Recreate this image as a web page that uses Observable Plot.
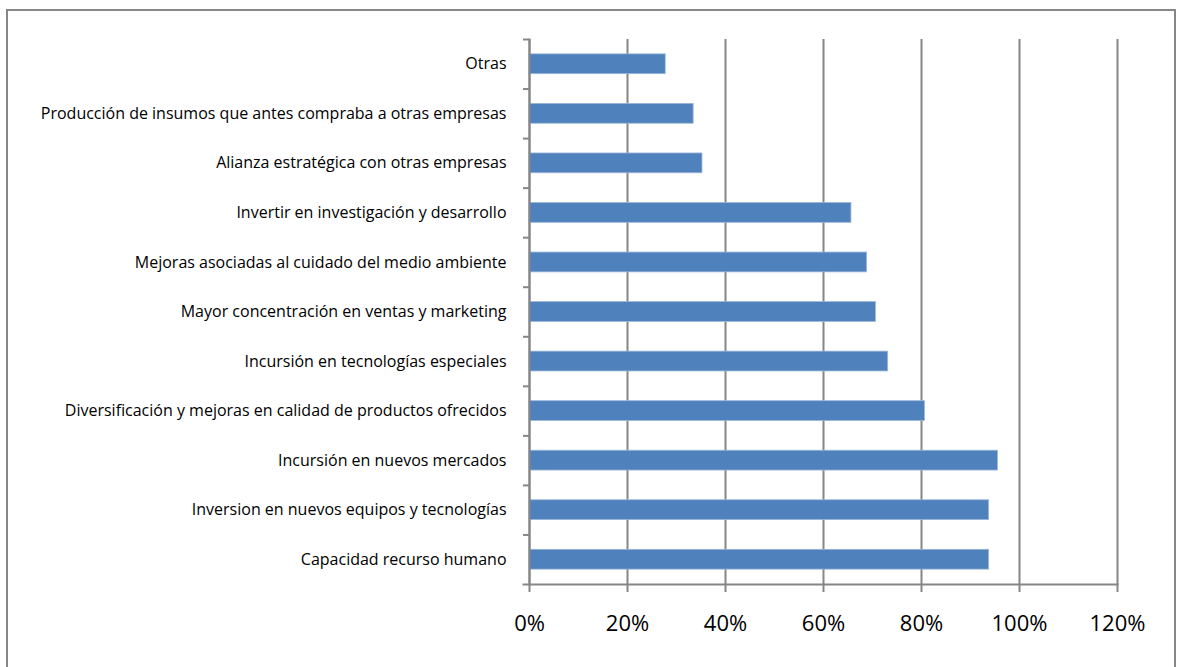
<!DOCTYPE html>
<html>
<head>
<meta charset="utf-8">
<script src="https://cdn.jsdelivr.net/npm/d3@7"></script>
<script src="https://cdn.jsdelivr.net/npm/@observablehq/plot@0.6"></script>
<style>
  html, body { margin: 0; padding: 0; background: #fff; }
  #wrap { position: relative; width: 1177px; height: 667px; overflow: hidden; background: #fff; }
  #border { position: absolute; left: 6px; top: 9px; width: 1170px; height: 720px; box-sizing: border-box; border: 2.5px solid #868686; pointer-events: none; }
  #chart { position: absolute; left: 0; top: 0; }
  #chart svg { font-family: "Open Sans", Lato, sans-serif; }
</style>
</head>
<body>
<div id="wrap"><div id="chart"></div><div id="border"></div></div>
<script>
const categories = [
  "Otras",
  "Producción de insumos que antes compraba a otras empresas",
  "Alianza estratégica con otras empresas",
  "Invertir en investigación y desarrollo",
  "Mejoras asociadas al cuidado del medio ambiente",
  "Mayor concentración en ventas y marketing",
  "Incursión en tecnologías especiales",
  "Diversificación y mejoras en calidad de productos ofrecidos",
  "Incursión en nuevos mercados",
  "Inversion en nuevos equipos y tecnologías",
  "Capacidad recurso humano"
];
const values = [0.278, 0.335, 0.353, 0.657, 0.689, 0.707, 0.732, 0.807, 0.956, 0.938, 0.938];
const xTicks = [0, 0.2, 0.4, 0.6, 0.8, 1.0, 1.2];

const data = categories.map((c, i) => ({category: c, value: values[i]}));

const height = 667, marginTop = 39, marginBottom = 83;
const step = (height - marginTop - marginBottom) / categories.length;
const grey = "#868686";

const chart = Plot.plot({
  width: 1177,
  height,
  marginLeft: 529,
  marginRight: 60,
  marginTop,
  marginBottom,
  x: {domain: [0, 1.2], label: null},
  y: {domain: categories, paddingInner: 0.6, paddingOuter: 0.3, round: false, label: null},
  marks: [
    Plot.gridX(xTicks, {stroke: grey, strokeOpacity: 1, strokeWidth: 2}),
    Plot.barX(data, {x: "value", y: "category", fill: "#4f81bd", stroke: "#9bb7d9", strokeWidth: 0.8}),
    Plot.axisX(xTicks, {tickFormat: d3.format(".0%"), tickSize: 8, tickPadding: 23, fontSize: 22, stroke: grey, strokeWidth: 2, fill: "#000", label: null}),
    Plot.axisY({tickSize: 0, tickPadding: 23, fontSize: 16, fill: "#000", label: null}),
    Plot.axisY({tickSize: 6, text: null, dy: -step / 2, stroke: grey, strokeWidth: 2, label: null}),
    Plot.frame({anchor: "left", stroke: grey, strokeWidth: 2}),
    Plot.frame({anchor: "bottom", stroke: grey, strokeWidth: 2, insetLeft: -6})
  ]
});
document.getElementById("chart").appendChild(chart);
</script>
</body>
</html>
